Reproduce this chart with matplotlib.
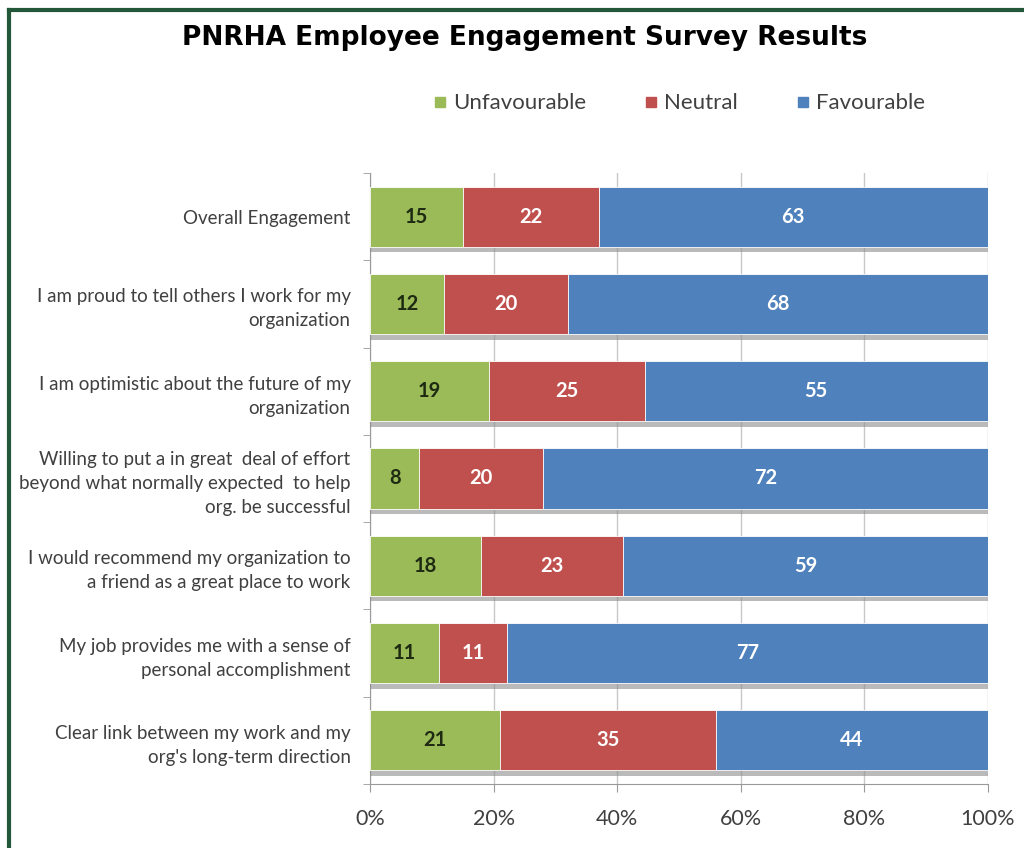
import matplotlib
matplotlib.use("Agg")
import matplotlib.pyplot as plt
import matplotlib.patheffects as pe
from matplotlib.lines import Line2D
import numpy as np

categories = [
    "Overall Engagement",
    "I am proud to tell others I work for my\norganization",
    "I am optimistic about the future of my\norganization",
    "Willing to put a in great  deal of effort\nbeyond what normally expected  to help\norg. be successful",
    "I would recommend my organization to\na friend as a great place to work",
    "My job provides me with a sense of\npersonal accomplishment",
    "Clear link between my work and my\norg's long-term direction",
]
unfavourable = [15, 12, 19, 8, 18, 11, 21]
neutral = [22, 20, 25, 20, 23, 11, 35]
favourable = [63, 68, 55, 72, 59, 77, 44]
series_names = ["Unfavourable", "Neutral", "Favourable"]
colors = ["#9BBB59", "#C0504D", "#4F81BD"]
label_colors = ["#1e2a12", "white", "white"]
xticks = [0, 20, 40, 60, 80, 100]
xticklabels = ["0%", "20%", "40%", "60%", "80%", "100%"]

plt.rcParams['font.family'] = ['Lato', 'DejaVu Sans']

fig = plt.figure(figsize=(10.24, 8.48), dpi=100)
fig.patch.set_facecolor("white")

ax = fig.add_axes([0.3613, 0.0755, 0.6035, 0.7205])

data = np.array([unfavourable, neutral, favourable], dtype=float)
totals = data.sum(axis=0)
pct = data / totals * 100
y = np.arange(len(categories))
left = np.zeros(len(categories))
shadow = [pe.SimplePatchShadow(offset=(0, -4), shadow_rgbFace=(0.55, 0.55, 0.55), alpha=0.6), pe.Normal()]
for i in range(3):
    ax.barh(y, pct[i], left=left, height=0.69, color=colors[i],
            edgecolor="white", linewidth=0.6, zorder=3,
            path_effects=shadow)
    for j in range(len(categories)):
        ax.text(left[j] + pct[i][j] / 2, y[j], f"{int(data[i][j])}",
                ha="center", va="center", fontsize=14.5, color=label_colors[i],
                fontweight="bold", zorder=5)
    left += pct[i]

ax.set_xlim(0, 100)
ax.set_ylim(len(categories) - 0.5, -0.5)
ax.set_yticks(y)
ax.set_yticklabels(categories, fontsize=13.5, color="#404040", linespacing=1.5)
ax.set_yticks(np.arange(len(categories) + 1) - 0.5, minor=True)
ax.tick_params(axis="y", which="major", length=0, pad=14)
ax.tick_params(axis="y", which="minor", length=5, color="#999999")
ax.set_xticks(xticks)
ax.set_xticklabels(xticklabels, fontsize=15.5, color="#404040")
ax.tick_params(axis="x", length=6, color="#999999", pad=12)
ax.grid(axis="x", color="#c8c8c8", linewidth=1, zorder=0)
for s in ["top", "right"]:
    ax.spines[s].set_visible(False)
for s in ["left", "bottom"]:
    ax.spines[s].set_color("#999999")

fig.text(0.512, 0.955, "PNRHA Employee Engagement Survey Results",
         ha="center", va="center", fontsize=19, fontweight="bold",
         family="DejaVu Sans", color="black")

handles = [Line2D([0], [0], marker="s", linestyle="none", markersize=7,
                  markerfacecolor=c, markeredgecolor=c) for c in colors]
fig.legend(handles, series_names, loc="center", bbox_to_anchor=(0.66, 0.878),
           ncol=3, frameon=False, fontsize=16, handletextpad=0.0,
           handlelength=1.2, columnspacing=2.3, labelcolor="#404040")

# dark green border (top and left)
fig.add_artist(Line2D([0.0085, 1.0], [0.9885, 0.9885], color="#22573a",
                      linewidth=3, transform=fig.transFigure))
fig.add_artist(Line2D([0.0085, 0.0085], [0.0, 0.9885], color="#22573a",
                      linewidth=3, transform=fig.transFigure))

fig.savefig("out.png", dpi=100, facecolor="white")
